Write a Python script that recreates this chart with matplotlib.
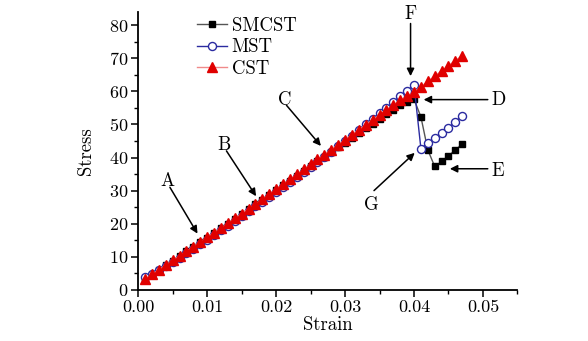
import matplotlib.pyplot as plt
from matplotlib.ticker import MultipleLocator

plt.rcParams['font.family'] = ['cmr10', 'DejaVu Serif']
plt.rcParams['axes.formatter.use_mathtext'] = True

# strain values, one marker every 0.001
strain = [i / 1000 for i in range(1, 48)]

cst = [3.3, 4.7, 6.1, 7.5, 8.9, 10.3, 11.7, 13.1, 14.5, 15.9,
       17.3, 18.7, 20.1, 21.6, 23.0, 24.5, 26.0, 27.4, 28.9, 30.4,
       31.9, 33.4, 34.9, 36.4, 37.9, 39.4, 40.9, 42.4, 43.9, 45.4,
       46.9, 48.4, 49.9, 51.4, 52.9, 54.4, 55.9, 57.3, 58.5, 59.8,
       61.4, 63.0, 64.6, 66.2, 67.8, 69.3, 70.8]

mst = [4.0, 4.9, 6.0, 7.2, 8.4, 9.7, 11.0, 12.4, 13.8, 15.2,
       16.6, 18.0, 19.4, 20.9, 22.3, 23.8, 25.3, 26.7, 28.2, 29.7,
       31.2, 32.7, 34.2, 35.7, 37.2, 38.7, 40.3, 41.8, 43.4, 45.0,
       46.6, 48.3, 50.0, 51.7, 53.4, 55.1, 56.8, 58.5, 60.2, 61.9,
       42.7, 44.4, 45.9, 47.3, 49.0, 50.8, 52.6]

smcst = [3.2, 4.6, 6.0, 7.4, 8.8, 10.2, 11.6, 13.0, 14.4, 15.8,
         17.2, 18.6, 20.0, 21.4, 22.8, 24.3, 25.8, 27.2, 28.7, 30.2,
         31.6, 33.0, 34.5, 35.9, 37.4, 38.8, 40.3, 41.7, 43.1, 44.5,
         45.9, 47.3, 48.8, 50.2, 51.6, 53.0, 54.4, 55.8, 56.8, 57.6,
         52.3, 42.3, 37.3, 38.8, 40.5, 42.3, 44.1]

# annotation labels: arrow tail and arrow head
notes = [
    ('A', (0.0046, 31.0), (0.0086, 17.0)),
    ('B', (0.0128, 42.0), (0.0171, 28.3)),
    ('C', (0.0215, 55.8), (0.0265, 43.5)),
    ('F', (0.0395, 80.5), (0.0395, 64.6)),
    ('D', (0.0507, 57.5), (0.0414, 57.5)),
    ('E', (0.0507, 36.6), (0.0452, 36.6)),
    ('G', (0.0342, 30.0), (0.0401, 41.4)),
]
text_pos = {'A': (0.0042, 33.0), 'B': (0.0125, 43.8), 'C': (0.0212, 57.3),
            'F': (0.0395, 83.5), 'D': (0.0522, 57.4), 'E': (0.0522, 36.0),
            'G': (0.0338, 25.5)}

fig = plt.figure(figsize=(5.88, 3.41), dpi=100)
ax = fig.add_axes([0.235, 0.15, 0.645, 0.815])

ax.plot(strain, smcst, '-s', color='#555555', lw=1.0, ms=4.8,
        mfc='black', mec='black', label='SMCST', zorder=3)
ax.plot(strain, mst, '-o', color='#2b2ba0', lw=1.0, ms=5.8,
        mfc='white', mec='#2b2ba0', mew=1.0, label='MST', zorder=4)
ax.plot(strain, cst, '-^', color='#f08a8a', lw=1.0, ms=6.5,
        mfc='#e00000', mec='#e00000', label='CST', zorder=5)

for name, tail, head in notes:
    ax.annotate('', xy=head, xytext=tail,
                arrowprops=dict(arrowstyle='-|>', color='black', lw=1.1,
                                mutation_scale=11, shrinkA=0, shrinkB=0))
    ax.text(text_pos[name][0], text_pos[name][1], name, fontsize=13.5,
            ha='center', va='center')

ax.set_xlim(0, 0.055)
ax.set_ylim(0, 84)
ax.xaxis.set_major_locator(MultipleLocator(0.01))
ax.xaxis.set_minor_locator(MultipleLocator(0.005))
ax.yaxis.set_major_locator(MultipleLocator(10))
ax.yaxis.set_minor_locator(MultipleLocator(5))
ax.set_xticks([0, 0.01, 0.02, 0.03, 0.04, 0.05])
ax.set_xticklabels(['0.00', '0.01', '0.02', '0.03', '0.04', '0.05'])

ax.spines['top'].set_visible(False)
ax.spines['right'].set_visible(False)
ax.spines['left'].set_linewidth(1.3)
ax.spines['bottom'].set_linewidth(1.3)
ax.tick_params(which='major', direction='out', length=5, width=1.1, labelsize=13, pad=2)
ax.tick_params(which='minor', direction='out', length=3, width=1.0)

ax.set_xlabel('Strain', fontsize=13.5, labelpad=1)
ax.set_ylabel('Stress', fontsize=13.5, labelpad=10)

ax.legend(loc='upper left', bbox_to_anchor=(0.12, 1.03), frameon=False,
          fontsize=13.5, handlelength=1.6, handletextpad=0.25,
          labelspacing=0.2, borderpad=0.2)

fig.savefig('out.png', dpi=100)
